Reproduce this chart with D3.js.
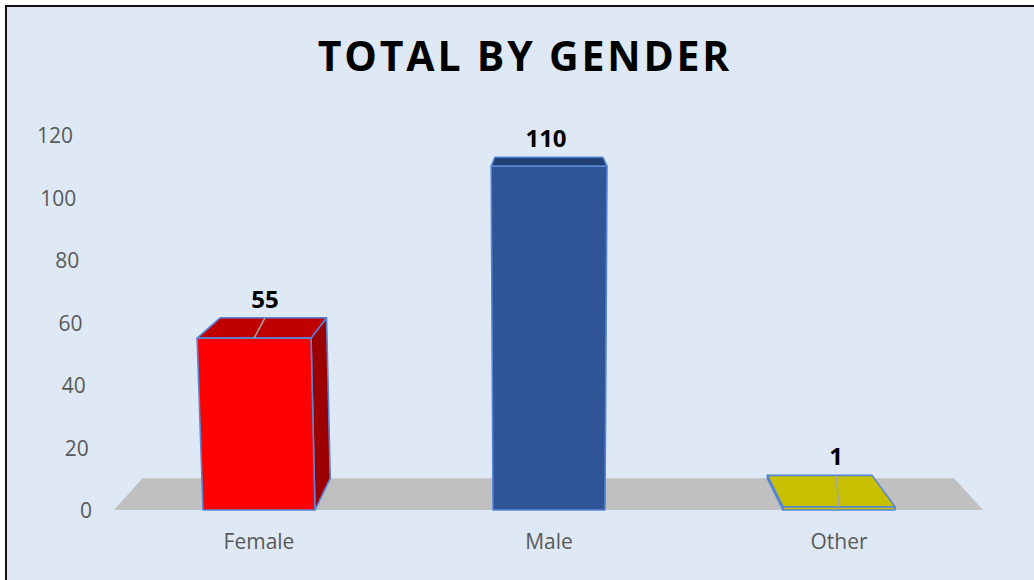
<!DOCTYPE html>
<html>
<head>
<meta charset="utf-8">
<script src="https://cdn.jsdelivr.net/npm/d3@7"></script>
<style>
  body { margin: 0; background: #fff; }
  text { font-family: "Open Sans", "DejaVu Sans", sans-serif; }
</style>
</head>
<body>
<div id="chart"></div>
<script>
// data
var categories = ["Female", "Male", "Other"];
var totals = [55, 110, 1];
var yTicks = [0, 20, 40, 60, 80, 100, 120];
var fronts = ["#ff0000", "#2f5597", "#c6c000"];
var tops = ["#c00000", "#213f72", "#c6c000"];
var sides = ["#9c0000", "#1d3763", "#a8a300"];

var width = 1034, height = 580;

var svg = d3.select("#chart")
  .append("svg")
    .attr("width", width)
    .attr("height", height);

// panel with only top/left frame showing
svg.append("rect")
  .attr("x", 6).attr("y", 6)
  .attr("width", width + 10).attr("height", height + 10)
  .attr("fill", "#dee9f5")
  .attr("stroke", "#111")
  .attr("stroke-width", 2);

// scales on the front floor plane
var x = d3.scalePoint()
  .domain(categories)
  .range([259, 839]);
var barW = 112;

var y = d3.scaleLinear()
  .domain([0, 120])
  .range([510, 135]);

// simple perspective: vanishing point + slight lean of verticals
var vp = [546, 30], k = 0.066, lean = 0.0001, floorY = y(0);
function proj(px, py, depth) {
  var fx = vp[0] + (px - vp[0]) * (1 + lean * (floorY - py));
  return [fx + k * depth * (vp[0] - fx), py + k * depth * (vp[1] - py)];
}
function poly(pts) { return "M" + pts.map(function(p) { return p.join(","); }).join("L") + "Z"; }

// floor
var fl = 114, fr = 983;
svg.append("path")
  .attr("d", poly([proj(fl, floorY, 0), proj(fl, floorY, 1), proj(fr, floorY, 1), proj(fr, floorY, 0)]))
  .attr("fill", "#c0c0c0");

// y axis labels (slanted with the perspective)
svg.append("g").selectAll("text")
  .data(yTicks)
  .enter()
  .append("text")
    .attr("x", function(d) { return 73 + (y(d) - y(120)) / (y(0) - y(120)) * 19; })
    .attr("y", function(d) { return y(d) + 8; })
    .attr("text-anchor", "end")
    .attr("font-size", 21)
    .attr("fill", "#595959")
    .text(function(d) { return d; });

// bars
var bars = svg.append("g").selectAll("g")
  .data(categories)
  .enter()
  .append("g");

bars.each(function(c, i) {
  var g = d3.select(this);
  var l = x(c) - barW / 2, r = x(c) + barW / 2;
  var t = y(totals[i]), b = y(0);
  var stroke = { stroke: "#5585d6", "stroke-width": 1.6, "stroke-linejoin": "round" };
  function face(pts, fill) {
    var p = g.append("path").attr("d", poly(pts)).attr("fill", fill);
    Object.keys(stroke).forEach(function(s) { p.attr(s, stroke[s]); });
  }
  if (r < vp[0]) face([proj(r, t, 0), proj(r, t, 1), proj(r, b, 1), proj(r, b, 0)], sides[i]);
  if (l > vp[0]) face([proj(l, t, 0), proj(l, t, 1), proj(l, b, 1), proj(l, b, 0)], sides[i]);
  face([proj(l, t, 0), proj(l, t, 1), proj(r, t, 1), proj(r, t, 0)], tops[i]);
  face([proj(l, t, 0), proj(r, t, 0), proj(r, b, 0), proj(l, b, 0)], fronts[i]);

  // value label with leader line
  var front = proj(x(c), t, 0), back = proj(x(c), t, 1);
  var lx = x(c) + (x(c) < vp[0] ? 6 : -3);
  var ly = back[1] - 10;
  if (front[1] - (ly + 10) > 20) {
    g.append("line")
      .attr("x1", lx).attr("y1", ly + 10)
      .attr("x2", front[0]).attr("y2", front[1])
      .attr("stroke", "#a6a6a6")
      .attr("stroke-width", 1.5);
  }
  g.append("text")
    .attr("x", lx).attr("y", ly)
    .attr("text-anchor", "middle")
    .attr("font-size", 24)
    .attr("font-weight", "bold")
    .attr("fill", "#000")
    .text(totals[i]);
});

// category labels
svg.append("g").selectAll("text")
  .data(categories)
  .enter()
  .append("text")
    .attr("x", function(d) { return x(d); })
    .attr("y", 549)
    .attr("text-anchor", "middle")
    .attr("font-size", 21)
    .attr("fill", "#595959")
    .text(function(d) { return d; });

// title
svg.append("text")
  .attr("x", 525)
  .attr("y", 71)
  .attr("text-anchor", "middle")
  .attr("font-size", 41)
  .attr("font-weight", "bold")
  .attr("letter-spacing", 2.8)
  .attr("fill", "#000")
  .text("TOTAL BY GENDER");
</script>
</body>
</html>
